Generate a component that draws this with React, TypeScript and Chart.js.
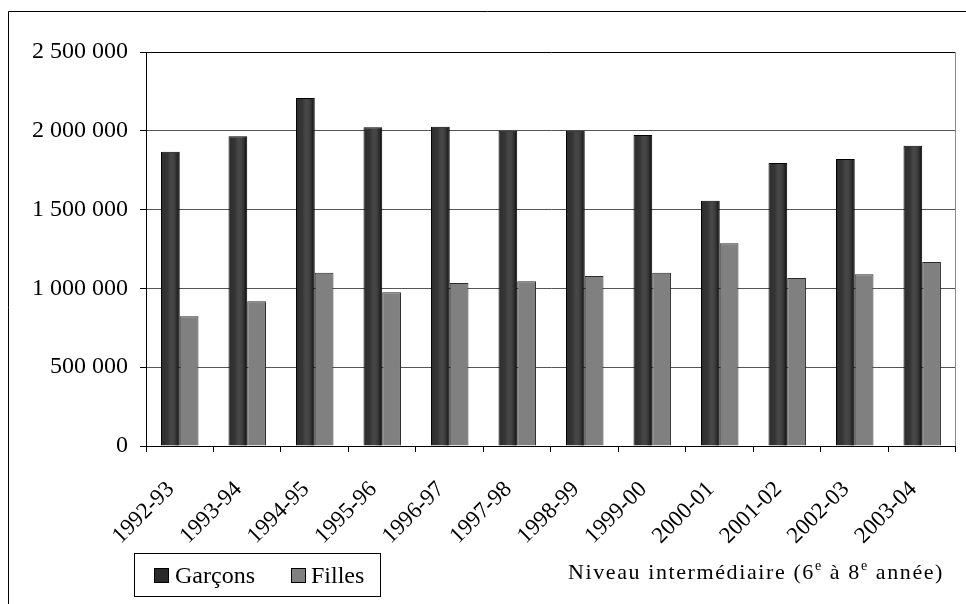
import React, { useEffect, useRef } from "react";
import { Chart, registerables } from "chart.js";

Chart.register(...registerables);

const categories = [
  "1992-93", "1993-94", "1994-95", "1995-96", "1996-97", "1997-98",
  "1998-99", "1999-00", "2000-01", "2001-02", "2002-03", "2003-04",
];
const garcons = [
  1867000, 1965000, 2208000, 2022000, 2025000, 2000000,
  2000000, 1973000, 1556000, 1796000, 1821000, 1905000,
];
const filles = [
  823000, 918000, 1100000, 975000, 1034000, 1045000,
  1079000, 1100000, 1286000, 1066000, 1089000, 1167000,
];
const yTicks = [0, 500000, 1000000, 1500000, 2000000, 2500000];
const seriesNames = ["Garçons", "Filles"];
const captionParts = ["Niveau intermédiaire (6", "e", " à 8", "e", " année)"];

const FONT = '"Liberation Serif", "Times New Roman", serif';
const DARK = "#2a2a2a";
const GREY = "#808080";

const fmt = (v: number) =>
  String(Math.round(v)).replace(/\B(?=(\d{3})+(?!\d))/g, " ");

// Soft horizontal shading on the dark bars
const barShading = {
  id: "barShading",
  afterDatasetsDraw(chart: any) {
    const { ctx } = chart;
    const meta = chart.getDatasetMeta(0);
    ctx.save();
    meta.data.forEach((bar: any) => {
      const { x, y, base, width } = bar.getProps(["x", "y", "base", "width"], true);
      const left = x - width / 2 + 1;
      const right = x + width / 2 - 1;
      const g = ctx.createLinearGradient(left, 0, right, 0);
      g.addColorStop(0, "rgba(255,255,255,0.02)");
      g.addColorStop(0.35, "rgba(255,255,255,0.06)");
      g.addColorStop(1, "rgba(0,0,0,0.55)");
      ctx.fillStyle = g;
      ctx.fillRect(left, y + 1, right - left, base - y - 1);
    });
    ctx.restore();
  },
};

// Frame, legend box and caption drawn on top of the bars
const decorations = {
  id: "decorations",
  afterDraw(chart: any) {
    const { ctx, chartArea } = chart;
    ctx.save();
    // outer frame (left and top edges)
    ctx.strokeStyle = "#000";
    ctx.lineWidth = 1;
    ctx.beginPath();
    ctx.moveTo(8.5, 604);
    ctx.lineTo(8.5, 11.5);
    ctx.lineTo(966, 11.5);
    ctx.stroke();
    // right edge of plot area
    ctx.strokeStyle = "#8a8a8a";
    ctx.beginPath();
    ctx.moveTo(chartArea.right - 0.5, chartArea.top);
    ctx.lineTo(chartArea.right - 0.5, chartArea.bottom);
    ctx.stroke();

    // legend
    ctx.strokeStyle = "#000";
    ctx.strokeRect(134.5, 553.5, 246, 43);
    const swatch = (x: number, fill: string) => {
      ctx.fillStyle = fill;
      ctx.fillRect(x, 568, 15, 15);
      ctx.strokeStyle = "#000";
      ctx.strokeRect(x + 0.5, 568.5, 14, 14);
    };
    ctx.font = `24px ${FONT}`;
    ctx.textBaseline = "alphabetic";
    ctx.textAlign = "left";
    swatch(154, DARK);
    ctx.fillStyle = "#000";
    ctx.fillText(seriesNames[0], 175, 583);
    swatch(291, GREY);
    ctx.fillStyle = "#000";
    ctx.fillText(seriesNames[1], 311, 583);

    // caption with superscripts
    (ctx as any).letterSpacing = "1.6px";
    let x = 568;
    const base = 579;
    captionParts.forEach((part, i) => {
      const sup = i % 2 === 1;
      ctx.font = sup ? `14px ${FONT}` : `22px ${FONT}`;
      ctx.fillText(part, x, sup ? base - 9 : base);
      x += ctx.measureText(part).width;
    });
    (ctx as any).letterSpacing = "0px";
    ctx.restore();
  },
};

export default function App() {
  const ref = useRef<HTMLCanvasElement>(null);

  useEffect(() => {
    document.body.style.margin = "0";
    const chart = new Chart(ref.current!, {
      type: "bar",
      data: {
        labels: categories,
        datasets: [
          {
            label: seriesNames[0],
            data: garcons,
            backgroundColor: DARK,
            borderColor: "#000",
            borderWidth: 1,
          },
          {
            label: seriesNames[1],
            data: filles,
            backgroundColor: GREY,
            borderColor: "#2b2b2b",
            borderWidth: 1,
          },
        ],
      },
      options: {
        responsive: false,
        animation: false,
        layout: { padding: { left: 0, top: 52, right: 6, bottom: 0 } },
        datasets: { bar: { categoryPercentage: 0.555, barPercentage: 1 } },
        plugins: { legend: { display: false }, tooltip: { enabled: false } },
        scales: {
          x: {
            afterFit: (s: any) => {
              s.height = 158;
            },
            grid: {
              drawOnChartArea: false,
              drawTicks: true,
              tickLength: 6,
              color: "#000",
              offset: true,
            },
            border: { color: "#000", width: 1 },
            ticks: {
              color: "#000",
              font: { family: FONT, size: 23 },
              minRotation: 45,
              maxRotation: 45,
              padding: 24,
              labelOffset: -9,
              autoSkip: false,
            },
          },
          y: {
            min: 0,
            max: 2500000,
            afterFit: (s: any) => {
              s.width = 146;
            },
            afterBuildTicks: (s: any) => {
              s.ticks = yTicks.map((v) => ({ value: v }));
            },
            grid: {
              color: (c: any) =>
                c.tick && c.tick.value === 2500000 ? "#000" : "#555",
              tickColor: "#000",
              tickLength: 6,
              lineWidth: 1,
            },
            border: { color: "#000", width: 1 },
            ticks: {
              color: "#000",
              font: { family: FONT, size: 24 },
              padding: 12,
              callback: (v: any) => fmt(Number(v)),
            },
          },
        },
      },
      plugins: [barShading, decorations],
    });
    return () => chart.destroy();
  }, []);

  return (
    <div style={{ position: "absolute", left: 0, top: 0, width: 966, height: 604, background: "#fff" }}>
      <canvas ref={ref} width={966} height={604} />
    </div>
  );
}
